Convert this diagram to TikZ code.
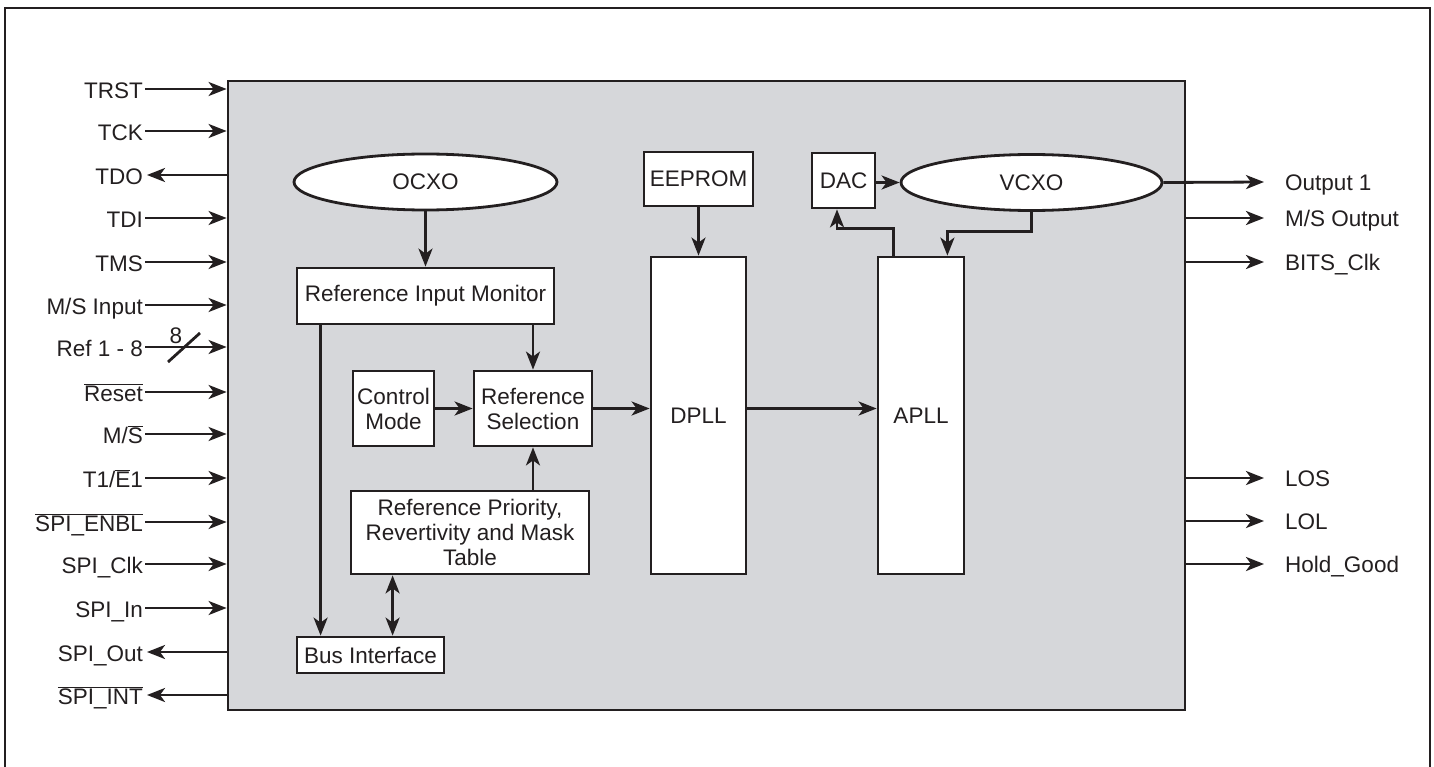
\documentclass[tikz,border=0pt]{standalone}
\usepackage{fontspec}
\setmainfont{Liberation Sans}
\usetikzlibrary{shapes.geometric,arrows.meta,calc}
\definecolor{chipgray}{RGB}{214,215,218}
\definecolor{ink}{RGB}{35,31,32}
\begin{document}
\begin{tikzpicture}[x=1pt,y=-1pt,
  >={Stealth[length=18pt,width=14pt,inset=5pt]},
  every node/.style={font=\fontsize{22.5}{25}\selectfont, text=ink},
  wire/.style={draw=ink, line width=2.8pt},
  blk/.style={draw=ink, line width=2.8pt, fill=white, rectangle, inner sep=0pt, align=center},
  osc/.style={draw=ink, line width=2.8pt, fill=white, ellipse, inner sep=0pt},
  lbl/.style={inner sep=0pt}]
\useasboundingbox (0,0) rectangle (1434,767);
% outer frame
\draw[ink, line width=2.4pt] (5,767) -- (5,8) -- (1430,8) -- (1430,767);
% chip
\node[draw=ink, line width=2.8pt, fill=chipgray, rectangle, inner sep=0pt,
      minimum width=957pt, minimum height=629pt] (chip) at (706.5,395.5) {};
% blocks
\node[osc, minimum width=263pt, minimum height=56pt] (ocxo) at (425.5,182) {OCXO};
\node[blk, minimum width=257pt, minimum height=56pt] (rim) at (425.5,296) {Reference Input Monitor};
\node[blk, minimum width=81pt, minimum height=75pt] (ctrl) at (393.5,408.5) {Control\\Mode};
\node[blk, minimum width=118pt, minimum height=75pt] (rsel) at (533,408.5) {Reference\\Selection};
\node[blk, minimum width=238pt, minimum height=83pt] (tbl) at (470,532.5) {Reference Priority,\\Revertivity and Mask\\Table};
\node[blk, minimum width=147pt, minimum height=36pt] (bus) at (370.5,655) {Bus Interface};
\node[blk, minimum width=109pt, minimum height=54pt] (eeprom) at (698.5,179) {EEPROM};
\node[blk, minimum width=95pt, minimum height=317pt] (dpll) at (698.5,415.5) {DPLL};
\node[blk, minimum width=63pt, minimum height=55pt] (dac) at (843.5,180.5) {DAC};
\node[osc, minimum width=261pt, minimum height=56pt] (vcxo) at (1031.5,182.5) {VCXO};
\node[blk, minimum width=86pt, minimum height=317pt] (apll) at (921,415.5) {APLL};
% internal connectors
\draw[wire,->] (ocxo) -- (rim);
\draw[wire,->] (rsel.north |- rim.south) -- (rsel.north);
\draw[wire,->] ([xshift=25pt]rim.south west) -- ([xshift=25pt]bus.north west);
\draw[wire,->] (ctrl.east) -- (rsel.west);
\draw[wire,->] (rsel.south |- tbl.north) -- (rsel.south);
\draw[wire,<->] ([xshift=97pt]bus.north west |- tbl.south) -- ([xshift=97pt]bus.north west);
\draw[wire,->] (rsel.east) -- (rsel.east -| dpll.west);
\draw[wire,->] (eeprom) -- (dpll);
\draw[wire,->] (dpll.east |- rsel.east) -- (apll.west |- rsel.east);
\draw[wire,->] (dac.east |- vcxo.west) -- (vcxo.west);
\draw[wire,->] ([xshift=17pt]apll.north west) -- ++(0,-27) -| ([xshift=-6.5pt]dac.south);
\draw[wire,->] (vcxo.south) -- ++(0,20) -| ([xshift=-18pt]apll.north east);
% left pins (inputs)
\foreach \y/\t/\n in {89/TRST/trst, 131/TCK/tck, 218/TDI/tdi, 262/TMS/tms,
   305/{M/S Input}/msin, 347/Ref 1 - 8/ref, 392/{$\overline{\mbox{Reset}}$}/rst,
   434/{M/$\overline{\mbox{S}}$}/ms, 478/{T1/$\overline{\mbox{E}}$1}/te,
   522/{$\overline{\mbox{SPI\_ENBL}}$}/enbl, 564/SPI\_Clk/sclk, 608/SPI\_In/sin}{
  \coordinate (p\n) at (145,\y);
  \node[lbl, anchor=base east] (l\n) at ([shift={(-2pt,-9.5pt)}]p\n) {\t};
  \draw[wire,->] (p\n) -- (p\n -| chip.west);
}
% left pins (outputs)
\foreach \y/\t/\n in {175/TDO/tdo, 652/SPI\_Out/sout, 695/{$\overline{\mbox{SPI\_INT}}$}/sint}{
  \coordinate (p\n) at (147,\y);
  \node[lbl, anchor=base east] (l\n) at ([shift={(-4pt,-9.5pt)}]p\n) {\t};
  \draw[wire,->] (p\n -| chip.west) -- (p\n);
}
% bus-width mark
\coordinate (s1) at (168,362);
\coordinate (s2) at (200,333);
\draw[wire] (s1) -- (s2);
\node[lbl, anchor=base] (bw) at (176,343) {8};
% right pins
\coordinate (qout) at (1264,182);
\node[lbl, anchor=base west] (lout) at (1285,190.5) {Output 1};
\draw[wire,->] (vcxo.east) -- (qout);
\foreach \y/\t/\n in {218/{M/S Output}/msout, 262/BITS\_Clk/bits, 478/LOS/los,
   521/LOL/lol, 564/Hold\_Good/hold}{
  \coordinate (q\n) at (1264,\y);
  \node[lbl, anchor=base west] (l\n) at ([shift={(21pt,-8.5pt)}]q\n) {\t};
  \draw[wire,->] (q\n -| chip.east) -- (q\n);
}
\end{tikzpicture}
\end{document}
